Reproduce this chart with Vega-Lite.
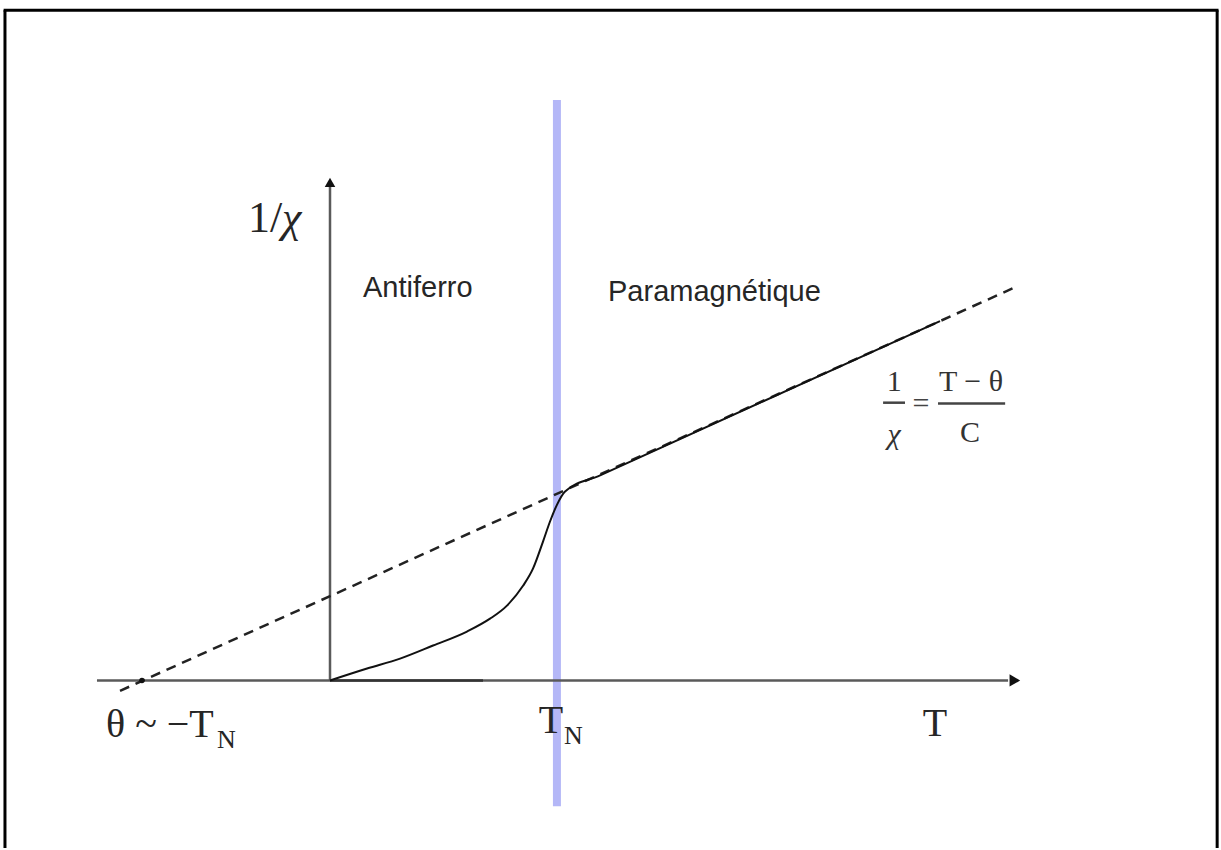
{
  "$schema": "https://vega.github.io/schema/vega-lite/v6.json",
  "width": 1221,
  "height": 850,
  "padding": 0,
  "autosize": {"type": "fit", "contains": "padding"},
  "background": "white",
  "config": {"view": {"stroke": null}},
  "datasets": {
    "frame_sides": [
      {"T": -1.438, "Y": -0.743, "Y2": 2.973},
      {"T": 3.925, "Y": -0.743, "Y2": 2.973}
    ],
    "frame_top": [
      {"T": -1.444, "T2": 3.931, "Y": 2.973}
    ],
    "neel_line": [
      {"T": 1.004, "Y": -0.558, "Y2": 2.575}
    ],
    "t_axis": [
      {"T": -1.031, "T2": 3.0, "Y": 0}
    ],
    "t_axis_low": [
      {"T": 0, "T2": 0.677, "Y": 0}
    ],
    "chi_axis": [
      {"T": 0, "Y": 0, "Y2": 2.19}
    ],
    "arrow_t": [{"T": 3.03, "Y": 0}],
    "arrow_chi": [{"T": 0, "Y": 2.209}],
    "curie_weiss": [
      {"T": -0.929, "Y": -0.046},
      {"T": 3.031, "Y": 1.744}
    ],
    "theta_point": [{"T": -0.832, "Y": 0}],
    "inverse_chi": [
      {"T": 0.0, "Y": 0.0},
      {"T": 0.164, "Y": 0.053},
      {"T": 0.31, "Y": 0.097},
      {"T": 0.456, "Y": 0.155},
      {"T": 0.606, "Y": 0.217},
      {"T": 0.708, "Y": 0.274},
      {"T": 0.783, "Y": 0.332},
      {"T": 0.854, "Y": 0.42},
      {"T": 0.898, "Y": 0.496},
      {"T": 0.942, "Y": 0.615},
      {"T": 0.973, "Y": 0.704},
      {"T": 1.004, "Y": 0.779},
      {"T": 1.04, "Y": 0.838},
      {"T": 1.195, "Y": 0.91},
      {"T": 2.699, "Y": 1.594}
    ],
    "fraction_bars": [
      {"T": 2.447, "T2": 2.544, "Y": 1.232},
      {"T": 2.69, "T2": 2.987, "Y": 1.228}
    ],
    "phase_labels": [
      {"T": 0.146, "Y": 1.699, "label": "Antiferro"},
      {"T": 1.23, "Y": 1.681, "label": "Paramagnétique"}
    ],
    "axis_title_num": [
      {"T": -0.363, "Y": 1.991, "label": "1/"}
    ],
    "axis_title_chi": [
      {"T": -0.212, "Y": 1.991, "label": "χ"}
    ],
    "math_big_left": [
      {"T": -0.991, "Y": -0.252, "label": "θ ~ −T"}
    ],
    "math_big_center": [
      {"T": 0.978, "Y": -0.235, "label": "T"},
      {"T": 2.677, "Y": -0.248, "label": "T"}
    ],
    "subscripts": [
      {"T": -0.5, "Y": -0.301, "label": "N"},
      {"T": 1.035, "Y": -0.283, "label": "N"}
    ],
    "formula": [
      {"T": 2.496, "Y": 1.283, "label": "1"},
      {"T": 2.836, "Y": 1.283, "label": "T − θ"},
      {"T": 2.832, "Y": 1.058, "label": "C"}
    ],
    "formula_chi": [
      {"T": 2.496, "Y": 1.049, "label": "χ"}
    ],
    "formula_eq": [
      {"T": 2.615, "Y": 1.226, "label": "="}
    ]
  },
  "encoding": {
    "x": {"field": "T", "type": "quantitative", "scale": {"domain": [-1.46, 3.942], "nice": false, "zero": false}, "axis": null},
    "y": {"field": "Y", "type": "quantitative", "scale": {"domain": [-0.743, 3.018], "nice": false, "zero": false}, "axis": null}
  },
  "layer": [
    {
      "data": {"name": "frame_sides"},
      "mark": {"type": "rule", "color": "#000000", "strokeWidth": 3},
      "encoding": {"y2": {"field": "Y2"}}
    },
    {
      "data": {"name": "frame_top"},
      "mark": {"type": "rule", "color": "#000000", "strokeWidth": 3},
      "encoding": {"x2": {"field": "T2"}}
    },
    {
      "data": {"name": "neel_line"},
      "mark": {"type": "rule", "color": "#b4b7f7", "strokeWidth": 8},
      "encoding": {"y2": {"field": "Y2"}}
    },
    {
      "data": {"name": "t_axis"},
      "mark": {"type": "rule", "color": "#5a5a5a", "strokeWidth": 2.5},
      "encoding": {"x2": {"field": "T2"}}
    },
    {
      "data": {"name": "t_axis_low"},
      "mark": {"type": "rule", "color": "#333333", "strokeWidth": 2.5},
      "encoding": {"x2": {"field": "T2"}}
    },
    {
      "data": {"name": "chi_axis"},
      "mark": {"type": "rule", "color": "#5a5a5a", "strokeWidth": 2.5},
      "encoding": {"y2": {"field": "Y2"}}
    },
    {
      "data": {"name": "arrow_t"},
      "mark": {"type": "point", "shape": "triangle-right", "filled": true, "color": "#111111", "size": 150, "opacity": 1}
    },
    {
      "data": {"name": "arrow_chi"},
      "mark": {"type": "point", "shape": "triangle-up", "filled": true, "color": "#111111", "size": 110, "opacity": 1}
    },
    {
      "data": {"name": "curie_weiss"},
      "mark": {"type": "line", "color": "#222222", "strokeWidth": 2.5, "strokeDash": [10, 7]}
    },
    {
      "data": {"name": "theta_point"},
      "mark": {"type": "point", "shape": "circle", "filled": true, "color": "#111111", "size": 30, "opacity": 1}
    },
    {
      "data": {"name": "inverse_chi"},
      "mark": {"type": "line", "color": "#111111", "strokeWidth": 2, "interpolate": "monotone"}
    },
    {
      "data": {"name": "fraction_bars"},
      "mark": {"type": "rule", "color": "#444444", "strokeWidth": 2.5},
      "encoding": {"x2": {"field": "T2"}}
    },
    {
      "data": {"name": "phase_labels"},
      "mark": {"type": "text", "align": "left", "baseline": "alphabetic", "font": "Liberation Sans", "fontSize": 29, "color": "#262626"},
      "encoding": {"text": {"field": "label"}}
    },
    {
      "data": {"name": "axis_title_num"},
      "mark": {"type": "text", "align": "left", "baseline": "alphabetic", "font": "Liberation Serif", "fontSize": 44, "color": "#262626"},
      "encoding": {"text": {"field": "label"}}
    },
    {
      "data": {"name": "axis_title_chi"},
      "mark": {"type": "text", "align": "left", "baseline": "alphabetic", "font": "Liberation Serif", "fontStyle": "italic", "fontSize": 44, "color": "#262626"},
      "encoding": {"text": {"field": "label"}}
    },
    {
      "data": {"name": "math_big_left"},
      "mark": {"type": "text", "align": "left", "baseline": "alphabetic", "font": "Liberation Serif", "fontSize": 40, "color": "#262626"},
      "encoding": {"text": {"field": "label"}}
    },
    {
      "data": {"name": "math_big_center"},
      "mark": {"type": "text", "align": "center", "baseline": "alphabetic", "font": "Liberation Serif", "fontSize": 40, "color": "#262626"},
      "encoding": {"text": {"field": "label"}}
    },
    {
      "data": {"name": "subscripts"},
      "mark": {"type": "text", "align": "left", "baseline": "alphabetic", "font": "Liberation Serif", "fontSize": 26, "color": "#262626"},
      "encoding": {"text": {"field": "label"}}
    },
    {
      "data": {"name": "formula"},
      "mark": {"type": "text", "align": "center", "baseline": "alphabetic", "font": "Liberation Serif", "fontSize": 30, "color": "#333333"},
      "encoding": {"text": {"field": "label"}}
    },
    {
      "data": {"name": "formula_chi"},
      "mark": {"type": "text", "align": "center", "baseline": "alphabetic", "font": "Liberation Serif", "fontStyle": "italic", "fontSize": 30, "color": "#333333"},
      "encoding": {"text": {"field": "label"}}
    },
    {
      "data": {"name": "formula_eq"},
      "mark": {"type": "text", "align": "center", "baseline": "middle", "font": "Liberation Serif", "fontSize": 30, "color": "#444444"},
      "encoding": {"text": {"field": "label"}}
    }
  ]
}
